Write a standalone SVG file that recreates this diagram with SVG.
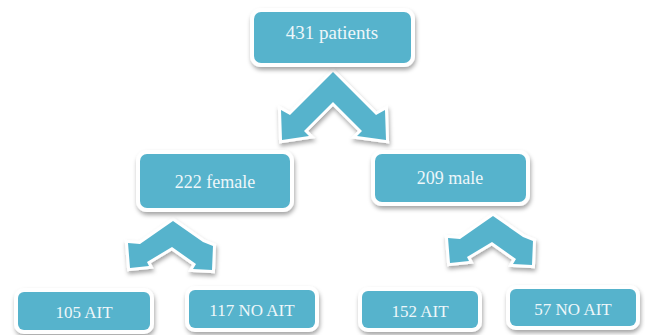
<svg xmlns="http://www.w3.org/2000/svg" width="645" height="335" viewBox="0 0 645 335">
  <defs>
    <filter id="sh" x="-20%" y="-30%" width="140%" height="170%">
      <feDropShadow dx="1" dy="3" stdDeviation="2" flood-color="#000" flood-opacity="0.35"/>
    </filter>
    <style>
      .box { fill: #57b3cc; stroke: #ffffff; stroke-width: 8; paint-order: stroke; filter: url(#sh); }
      .arr { fill: #57b3cc; stroke: #ffffff; stroke-width: 6; paint-order: stroke; stroke-linejoin: miter; filter: url(#sh); }
      .lbl { font-family: "Liberation Serif", "DejaVu Serif", serif; font-size: 18px; fill: #eef7fa; text-anchor: middle; dominant-baseline: central; }
      .lg { font-size: 19px; }
      .sm { font-size: 17px; }
    </style>
  </defs>
  <rect width="645" height="335" fill="#ffffff"/>

  <g id="connectors">
    <polygon class="arr" points="333,72 376,115 385,110 386,140 357,136 362,131 333,102 304,131 309,136 282,140 281,110 290,115"/>
    <polygon class="arr" points="173,221 203,242 213,246 212,270 193,269 196,264 172,247 147,262 149,266 130,268 128,243 140,244"/>
    <polygon class="arr" points="493,216 523,237 533,241 532,265 513,264 516,259 492,242 467,257 469,261 450,263 448,238 460,239"/>
  </g>

  <g id="n-patients">
    <rect class="box" x="254" y="12" width="157" height="51" rx="7"/>
    <text class="lbl lg" x="332" y="32">431 patients</text>
  </g>
  <g id="n-female">
    <rect class="box" x="140" y="154" width="150" height="54" rx="7"/>
    <text class="lbl" x="215" y="182">222 female</text>
  </g>
  <g id="n-male">
    <rect class="box" x="375" y="154" width="151" height="48" rx="7"/>
    <text class="lbl" x="450" y="178">209 male</text>
  </g>
  <g id="n-f-ait">
    <rect class="box" x="18" y="292" width="132" height="38" rx="6"/>
    <text class="lbl sm" x="84" y="312">105 AIT</text>
  </g>
  <g id="n-f-noait">
    <rect class="box" x="189" y="290" width="126" height="38" rx="6"/>
    <text class="lbl sm" x="252" y="310">117 NO AIT</text>
  </g>
  <g id="n-m-ait">
    <rect class="box" x="362" y="291" width="116" height="37" rx="6"/>
    <text class="lbl sm" x="420" y="311">152 AIT</text>
  </g>
  <g id="n-m-noait">
    <rect class="box" x="510" y="289" width="126" height="37" rx="6"/>
    <text class="lbl sm" x="573" y="309">57 NO AIT</text>
  </g>
</svg>
